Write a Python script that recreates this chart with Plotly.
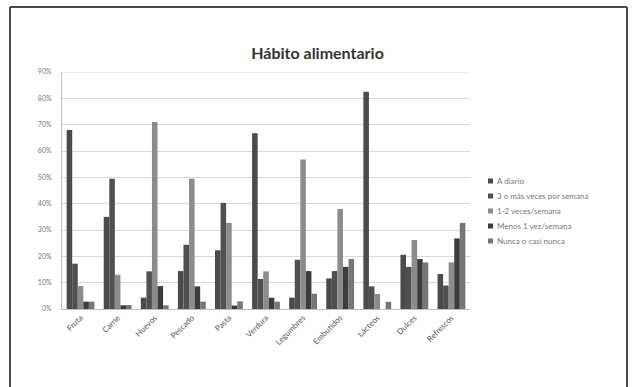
import plotly.graph_objects as go

# Food categories and weekly-frequency shares (fraction of respondents)
categories = ["Fruta", "Carne", "Huevos", "Pescado", "Pasta", "Verdura",
              "Legumbres", "Embutidos", "Lácteos", "Dulces", "Refrescos"]

a_diario = [0.68, 0.35, 0.043, 0.144, 0.223, 0.667, 0.043, 0.116, 0.825, 0.206, 0.133]
tres_o_mas = [0.172, 0.495, 0.143, 0.244, 0.403, 0.114, 0.187, 0.144, 0.086, 0.16, 0.089]
una_dos = [0.087, 0.13, 0.71, 0.495, 0.327, 0.143, 0.568, 0.38, 0.057, 0.262, 0.177]
menos_una = [0.028, 0.014, 0.087, 0.086, 0.013, 0.043, 0.144, 0.16, 0.0, 0.19, 0.268]
nunca = [0.028, 0.015, 0.014, 0.028, 0.029, 0.028, 0.058, 0.19, 0.027, 0.177, 0.327]

series_names = ["A diario", "3 o más veces por semana", "1-2 veces/semana",
                "Menos 1 vez/semana", "Nunca o casi nunca"]
series_values = [a_diario, tres_o_mas, una_dos, menos_una, nunca]
series_colors = ["#4b4b4b", "#505050", "#8c8c8c", "#3c3c3c", "#767676"]

y_ticks = [i / 10 for i in range(10)]
y_tick_labels = [f"{i * 10}%" for i in range(10)]

FONT = "Lato, 'Open Sans', sans-serif"

fig = go.Figure()
for name, vals, col in zip(series_names, series_values, series_colors):
    fig.add_trace(go.Bar(x=categories, y=vals, name=name,
                         marker=dict(color=col, line=dict(width=0))))

# plot area in pixels: x 62..470, y 72..309
L, R, T, B = 62, 470, 72, 309
W, H = 635, 387
pw, ph = R - L, B - T


def px_x(p):
    return (p - L) / pw


def px_y(p):
    return (B - p) / ph


fig.update_layout(
    width=W, height=H,
    margin=dict(l=L, r=W - R, t=T, b=H - B),
    paper_bgcolor="white", plot_bgcolor="white",
    barmode="group", bargap=0.25, bargroupgap=0,
    font=dict(family=FONT, color="#666666", size=8),
    title=dict(text="<b>Hábito alimentario</b>", x=0.5, xanchor="center",
               y=1 - 53 / H, yanchor="middle",
               font=dict(family=FONT, size=16, color="#333333")),
    showlegend=False,
    xaxis=dict(tickangle=-45, tickfont=dict(size=8, color="#555555"),
               showline=True, linecolor="#bfbfbf", linewidth=1,
               ticks="", showgrid=False),
    yaxis=dict(range=[0, 0.9], tickvals=y_ticks, ticktext=y_tick_labels,
               tickfont=dict(size=7, color="#777777"),
               showgrid=True, gridcolor="#d9d9d9", gridwidth=1,
               showline=True, linecolor="#bfbfbf", linewidth=1,
               ticks="", zeroline=False, ticklabelstandoff=8),
)

# outer chart frame: left, top and right edges (bottom runs off the page)
frame = dict(color="#4a4a4a", width=2)
fx0, fx1, fy_top, fy_bot = px_x(10), px_x(627), px_y(7), px_y(400)
for x0, y0, x1, y1 in [(fx0, fy_bot, fx0, fy_top), (fx0, fy_top, fx1, fy_top),
                       (fx1, fy_top, fx1, fy_bot)]:
    fig.add_shape(type="line", xref="paper", yref="paper",
                  x0=x0, y0=y0, x1=x1, y1=y1, line=frame, layer="below")

# top gridline at 90%
fig.add_shape(type="line", xref="paper", yref="y", x0=0, x1=1, y0=0.9, y1=0.9,
              line=dict(color="#d9d9d9", width=1), layer="below")

# legend: small square swatch + label per series
leg_x, leg_y0, leg_step = 488, 181, 15
for i, (name, col) in enumerate(zip(series_names, series_colors)):
    cy = leg_y0 + i * leg_step
    fig.add_shape(type="rect", xref="paper", yref="paper",
                  x0=px_x(leg_x), x1=px_x(leg_x + 5),
                  y0=px_y(cy + 2.5), y1=px_y(cy - 2.5),
                  line=dict(width=0), fillcolor=col)
    fig.add_annotation(text=name, xref="paper", yref="paper",
                       x=px_x(leg_x + 7), y=px_y(cy), xanchor="left",
                       yanchor="middle", showarrow=False,
                       font=dict(family=FONT, size=8, color="#777777"))

fig.write_html("out.html")
